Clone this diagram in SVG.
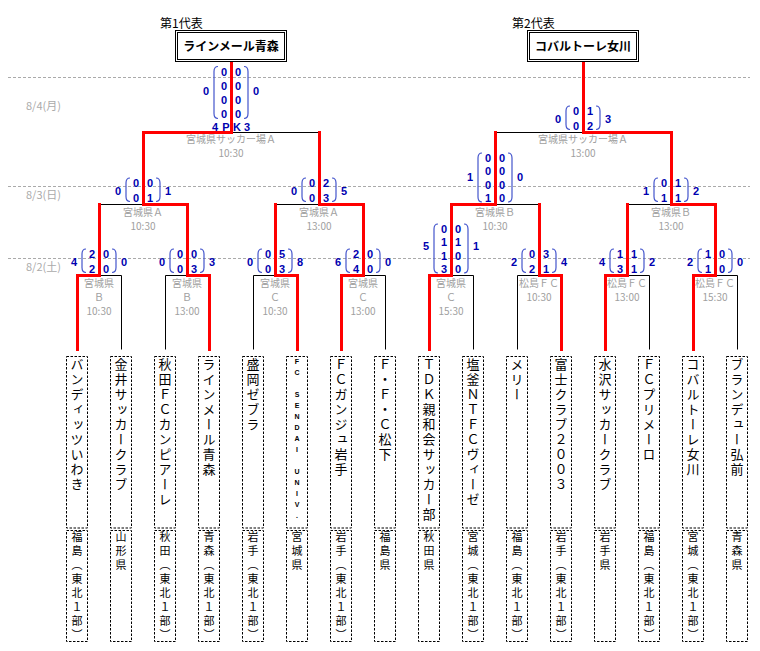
<svg xmlns="http://www.w3.org/2000/svg" width="760" height="651" viewBox="0 0 760 651">
<style>
.bg{fill:#fff}
.grid{stroke:#aaa;stroke-width:1;stroke-dasharray:3 2;fill:none}
.blk{stroke:#000;stroke-width:1;fill:none}
.red{stroke:#f00;stroke-width:3;fill:none;stroke-linejoin:miter;stroke-linecap:square}
.nb{fill:#fff;stroke:#000;stroke-width:1;stroke-dasharray:2.5 1.5}
.rep{fill:#fff;stroke:#000;stroke-width:1}
.t{font-family:"Noto Sans CJK JP",sans-serif;font-size:13px;writing-mode:vertical-rl;letter-spacing:2px;fill:#000}
.t2{font-family:"Liberation Sans",sans-serif;font-size:7px;font-weight:bold;writing-mode:vertical-rl;text-orientation:upright;letter-spacing:4px;fill:#000}
.pf{font-family:"Noto Sans CJK JP",sans-serif;font-size:11px;writing-mode:vertical-rl;letter-spacing:3px;fill:#000}
.s{font-family:"Liberation Sans",sans-serif;font-size:11px;font-weight:bold;fill:#0000b0;text-anchor:middle}
.p{fill:none;stroke:#4455cc;stroke-width:1.2}
.v{font-family:"Noto Sans CJK JP",sans-serif;font-size:10px;fill:#a0a0a0;text-anchor:middle}
.d{font-family:"Noto Sans CJK JP",sans-serif;font-size:11px;fill:#aaa}
.lab{font-family:"Noto Sans CJK JP",sans-serif;font-size:12px;fill:#000}
.rt{font-family:"Noto Sans CJK JP",sans-serif;font-size:12px;font-weight:bold;fill:#000;text-anchor:middle}
</style>
<defs>
<path id="p2" class="p" d="M-13,-26 Q-17,-26 -17,-21 V-7.5 Q-17,-2.5 -13,-2.5 M13,-26 Q17,-26 17,-21 V-7.5 Q17,-2.5 13,-2.5"/>
<path id="p4" class="p" d="M-13,-51 Q-17,-51 -17,-46 V-7 Q-17,-2 -13,-2 M13,-51 Q17,-51 17,-46 V-7 Q17,-2 13,-2"/>
<path id="p4k" class="p" d="M-13,-65.5 Q-17,-65.5 -17,-60.5 V-18.5 Q-17,-13.5 -13,-13.5 M13,-65.5 Q17,-65.5 17,-60.5 V-18.5 Q17,-13.5 13,-13.5"/>
</defs>
<rect class="bg" x="0" y="0" width="760" height="651"/>

<g id="grid">
<line class="grid" x1="8" y1="77.5" x2="750" y2="77.5"/>
<line class="grid" x1="8" y1="186.5" x2="750" y2="186.5"/>
<line class="grid" x1="8" y1="258.5" x2="750" y2="258.5"/>
<text class="d" x="26" y="109.5">8/4(月)</text>
<text class="d" x="26" y="199">8/3(日)</text>
<text class="d" x="26" y="271">8/2(土)</text>
</g>

<g id="connectors" transform="translate(0.5,0.5)">
<path class="blk" d="M121,275V349 M165,275V349 M253,275V349 M385,275V349 M473,275V349 M517,275V349 M649,275V349 M737,275V349"/>
<path class="blk" d="M99,275H121 M165,275H187 M253,275H275 M363,275H385 M451,275H473 M517,275H539 M627,275H649 M715,275H737"/>
<path class="blk" d="M99,204H143 M275,204H319 M495,204H539 M627,204H671"/>
<path class="blk" d="M231,132H319 M495,132H583"/>
<path class="red" d="M77,349V275H99V204"/>
<path class="red" d="M209,349V275H187V204H143V132H231V62"/>
<path class="red" d="M297,349V275H275V204"/>
<path class="red" d="M341,349V275H363V204H319V132"/>
<path class="red" d="M429,349V275H451V204H495V132"/>
<path class="red" d="M561,349V275H539V204"/>
<path class="red" d="M605,349V275H627V204"/>
<path class="red" d="M693,349V275H715V204H671V132H583V62"/>
</g>

<g id="rep-1">
<text class="lab" x="160" y="28">第1代表</text>
<rect class="rep" x="175.5" y="30.5" width="111" height="31"/>
<rect class="rep" x="177.5" y="32.5" width="107" height="27"/>
<text class="rt" x="231" y="51">ラインメール青森</text>
</g>
<g id="rep-2">
<text class="lab" x="512" y="28">第2代表</text>
<rect class="rep" x="527.5" y="30.5" width="111" height="31"/>
<rect class="rep" x="529.5" y="32.5" width="107" height="27"/>
<text class="rt" x="583" y="51">コバルトーレ女川</text>
</g>

<!-- semifinals 8/4 -->
<g id="match-sf1" transform="translate(231,132)">
<use href="#p4k"/>
<text class="s" x="-7" y="-56.5">0</text><text class="s" x="7" y="-56.5">0</text>
<text class="s" x="-7" y="-42.5">0</text><text class="s" x="7" y="-42.5">0</text>
<text class="s" x="-7" y="-28.5">0</text><text class="s" x="7" y="-28.5">0</text>
<text class="s" x="-7" y="-14.5">0</text><text class="s" x="7" y="-14.5">0</text>
<text class="s" x="-25" y="-37">0</text><text class="s" x="25" y="-37">0</text>
<text class="s" x="-16" y="-1.5">4</text><text class="s" x="-5" y="-1.5">P</text><text class="s" x="6" y="-1.5">K</text><text class="s" x="16" y="-1.5">3</text>
<text class="v" x="0" y="11">宮城県サッカー場Ａ</text>
<text class="v" x="0" y="25">10:30</text>
</g>
<g id="match-sf2" transform="translate(583,132)">
<use href="#p2"/>
<text class="s" x="-7" y="-17">0</text><text class="s" x="7" y="-17">1</text>
<text class="s" x="-7" y="-2.5">0</text><text class="s" x="7" y="-2.5">2</text>
<text class="s" x="-25" y="-9">0</text><text class="s" x="25" y="-9">3</text>
<text class="v" x="0" y="11">宮城県サッカー場Ａ</text>
<text class="v" x="0" y="25">13:00</text>
</g>

<!-- round 2 8/3 -->
<g id="match-r2-1" transform="translate(143,204)">
<use href="#p2"/>
<text class="s" x="-7" y="-17">0</text><text class="s" x="7" y="-17">0</text>
<text class="s" x="-7" y="-2.5">0</text><text class="s" x="7" y="-2.5">1</text>
<text class="s" x="-25" y="-9">0</text><text class="s" x="25" y="-9">1</text>
<text class="v" x="0" y="11.5">宮城県Ａ</text>
<text class="v" x="0" y="25.5">10:30</text>
</g>
<g id="match-r2-2" transform="translate(319,204)">
<use href="#p2"/>
<text class="s" x="-7" y="-17">0</text><text class="s" x="7" y="-17">2</text>
<text class="s" x="-7" y="-2.5">0</text><text class="s" x="7" y="-2.5">3</text>
<text class="s" x="-25" y="-9">0</text><text class="s" x="25" y="-9">5</text>
<text class="v" x="0" y="11.5">宮城県Ａ</text>
<text class="v" x="0" y="25.5">13:00</text>
</g>
<g id="match-r2-3" transform="translate(495,204)">
<use href="#p4"/>
<text class="s" x="-7" y="-42.5">0</text><text class="s" x="7" y="-42.5">0</text>
<text class="s" x="-7" y="-29">0</text><text class="s" x="7" y="-29">0</text>
<text class="s" x="-7" y="-15.5">0</text><text class="s" x="7" y="-15.5">0</text>
<text class="s" x="-7" y="-2">1</text><text class="s" x="7" y="-2">0</text>
<text class="s" x="-25" y="-23">1</text><text class="s" x="25" y="-23">0</text>
<text class="v" x="0" y="11.5">宮城県Ｂ</text>
<text class="v" x="0" y="25.5">10:30</text>
</g>
<g id="match-r2-4" transform="translate(671,204)">
<use href="#p2"/>
<text class="s" x="-7" y="-17">0</text><text class="s" x="7" y="-17">1</text>
<text class="s" x="-7" y="-2.5">1</text><text class="s" x="7" y="-2.5">1</text>
<text class="s" x="-25" y="-9">1</text><text class="s" x="25" y="-9">2</text>
<text class="v" x="0" y="11.5">宮城県Ｂ</text>
<text class="v" x="0" y="25.5">13:00</text>
</g>

<!-- round 1 8/2 -->
<g id="match-r1-1" transform="translate(99,275)">
<use href="#p2"/>
<text class="s" x="-7" y="-17">2</text><text class="s" x="7" y="-17">0</text>
<text class="s" x="-7" y="-2.5">2</text><text class="s" x="7" y="-2.5">0</text>
<text class="s" x="-25" y="-9">4</text><text class="s" x="25" y="-9">0</text>
<text class="v" x="0" y="12">宮城県</text><text class="v" x="0" y="26">Ｂ</text><text class="v" x="0" y="39.5">10:30</text>
</g>
<g id="match-r1-2" transform="translate(187,275)">
<use href="#p2"/>
<text class="s" x="-7" y="-17">0</text><text class="s" x="7" y="-17">0</text>
<text class="s" x="-7" y="-2.5">0</text><text class="s" x="7" y="-2.5">3</text>
<text class="s" x="-25" y="-9">0</text><text class="s" x="25" y="-9">3</text>
<text class="v" x="0" y="12">宮城県</text><text class="v" x="0" y="26">Ｂ</text><text class="v" x="0" y="39.5">13:00</text>
</g>
<g id="match-r1-3" transform="translate(275,275)">
<use href="#p2"/>
<text class="s" x="-7" y="-17">0</text><text class="s" x="7" y="-17">5</text>
<text class="s" x="-7" y="-2.5">0</text><text class="s" x="7" y="-2.5">3</text>
<text class="s" x="-25" y="-9">0</text><text class="s" x="25" y="-9">8</text>
<text class="v" x="0" y="12">宮城県</text><text class="v" x="0" y="26">Ｃ</text><text class="v" x="0" y="39.5">10:30</text>
</g>
<g id="match-r1-4" transform="translate(363,275)">
<use href="#p2"/>
<text class="s" x="-7" y="-17">2</text><text class="s" x="7" y="-17">0</text>
<text class="s" x="-7" y="-2.5">4</text><text class="s" x="7" y="-2.5">0</text>
<text class="s" x="-25" y="-9">6</text><text class="s" x="25" y="-9">0</text>
<text class="v" x="0" y="12">宮城県</text><text class="v" x="0" y="26">Ｃ</text><text class="v" x="0" y="39.5">13:00</text>
</g>
<g id="match-r1-5" transform="translate(451,275)">
<use href="#p4"/>
<text class="s" x="-7" y="-42.5">0</text><text class="s" x="7" y="-42.5">0</text>
<text class="s" x="-7" y="-29">1</text><text class="s" x="7" y="-29">1</text>
<text class="s" x="-7" y="-15.5">1</text><text class="s" x="7" y="-15.5">0</text>
<text class="s" x="-7" y="-2">3</text><text class="s" x="7" y="-2">0</text>
<text class="s" x="-25" y="-25">5</text><text class="s" x="25" y="-25">1</text>
<text class="v" x="0" y="12">宮城県</text><text class="v" x="0" y="26">Ｃ</text><text class="v" x="0" y="39.5">15:30</text>
</g>
<g id="match-r1-6" transform="translate(539,275)">
<use href="#p2"/>
<text class="s" x="-7" y="-17">0</text><text class="s" x="7" y="-17">3</text>
<text class="s" x="-7" y="-2.5">2</text><text class="s" x="7" y="-2.5">1</text>
<text class="s" x="-25" y="-9">2</text><text class="s" x="25" y="-9">4</text>
<text class="v" x="0" y="12">松島ＦＣ</text><text class="v" x="0" y="26">10:30</text>
</g>
<g id="match-r1-7" transform="translate(627,275)">
<use href="#p2"/>
<text class="s" x="-7" y="-17">1</text><text class="s" x="7" y="-17">1</text>
<text class="s" x="-7" y="-2.5">3</text><text class="s" x="7" y="-2.5">1</text>
<text class="s" x="-25" y="-9">4</text><text class="s" x="25" y="-9">2</text>
<text class="v" x="0" y="12">松島ＦＣ</text><text class="v" x="0" y="26">13:00</text>
</g>
<g id="match-r1-8" transform="translate(715,275)">
<use href="#p2"/>
<text class="s" x="-7" y="-17">1</text><text class="s" x="7" y="-17">0</text>
<text class="s" x="-7" y="-2.5">1</text><text class="s" x="7" y="-2.5">0</text>
<text class="s" x="-25" y="-9">2</text><text class="s" x="25" y="-9">0</text>
<text class="v" x="0" y="12">松島ＦＣ</text><text class="v" x="0" y="26">15:30</text>
</g>

<!-- teams -->
<g id="team-1"><rect class="nb" x="66.5" y="356.5" width="21" height="171.5"/><rect class="nb" x="66.5" y="530.5" width="21" height="111"/><text class="t" x="77" y="358">バンディッツいわき</text><text class="pf" x="77" y="531">福島（東北１部）</text></g>
<g id="team-2"><rect class="nb" x="110.5" y="356.5" width="21" height="171.5"/><rect class="nb" x="110.5" y="530.5" width="21" height="111"/><text class="t" x="121" y="358">金井サッカークラブ</text><text class="pf" x="121" y="531">山形県</text></g>
<g id="team-3"><rect class="nb" x="154.5" y="356.5" width="21" height="171.5"/><rect class="nb" x="154.5" y="530.5" width="21" height="111"/><text class="t" x="165" y="358">秋田ＦＣカンピアーレ</text><text class="pf" x="165" y="531">秋田（東北１部）</text></g>
<g id="team-4"><rect class="nb" x="198.5" y="356.5" width="21" height="171.5"/><rect class="nb" x="198.5" y="530.5" width="21" height="111"/><text class="t" x="209" y="358">ラインメール青森</text><text class="pf" x="209" y="531">青森（東北１部）</text></g>
<g id="team-5"><rect class="nb" x="242.5" y="356.5" width="21" height="171.5"/><rect class="nb" x="242.5" y="530.5" width="21" height="111"/><text class="t" x="253" y="358">盛岡ゼブラ</text><text class="pf" x="253" y="531">岩手（東北１部）</text></g>
<g id="team-6"><rect class="nb" x="286.5" y="356.5" width="21" height="171.5"/><rect class="nb" x="286.5" y="530.5" width="21" height="111"/><text class="t2" x="297" y="358">FC SENDAI UNIV.</text><text class="pf" x="297" y="531">宮城県</text></g>
<g id="team-7"><rect class="nb" x="330.5" y="356.5" width="21" height="171.5"/><rect class="nb" x="330.5" y="530.5" width="21" height="111"/><text class="t" x="341" y="358">ＦＣガンジュ岩手</text><text class="pf" x="341" y="531">岩手（東北１部）</text></g>
<g id="team-8"><rect class="nb" x="374.5" y="356.5" width="21" height="171.5"/><rect class="nb" x="374.5" y="530.5" width="21" height="111"/><text class="t" x="385" y="358">Ｆ・Ｆ・Ｃ松下</text><text class="pf" x="385" y="531">福島県</text></g>
<g id="team-9"><rect class="nb" x="418.5" y="356.5" width="21" height="171.5"/><rect class="nb" x="418.5" y="530.5" width="21" height="111"/><text class="t" x="429" y="358">ＴＤＫ親和会サッカー部</text><text class="pf" x="429" y="531">秋田県</text></g>
<g id="team-10"><rect class="nb" x="462.5" y="356.5" width="21" height="171.5"/><rect class="nb" x="462.5" y="530.5" width="21" height="111"/><text class="t" x="473" y="358">塩釜ＮＴＦＣヴィーゼ</text><text class="pf" x="473" y="531">宮城（東北１部）</text></g>
<g id="team-11"><rect class="nb" x="506.5" y="356.5" width="21" height="171.5"/><rect class="nb" x="506.5" y="530.5" width="21" height="111"/><text class="t" x="517" y="358">メリー</text><text class="pf" x="517" y="531">福島（東北１部）</text></g>
<g id="team-12"><rect class="nb" x="550.5" y="356.5" width="21" height="171.5"/><rect class="nb" x="550.5" y="530.5" width="21" height="111"/><text class="t" x="561" y="358">富士クラブ２００３</text><text class="pf" x="561" y="531">岩手（東北１部）</text></g>
<g id="team-13"><rect class="nb" x="594.5" y="356.5" width="21" height="171.5"/><rect class="nb" x="594.5" y="530.5" width="21" height="111"/><text class="t" x="605" y="358">水沢サッカークラブ</text><text class="pf" x="605" y="531">岩手県</text></g>
<g id="team-14"><rect class="nb" x="638.5" y="356.5" width="21" height="171.5"/><rect class="nb" x="638.5" y="530.5" width="21" height="111"/><text class="t" x="649" y="358">ＦＣプリメーロ</text><text class="pf" x="649" y="531">福島（東北１部）</text></g>
<g id="team-15"><rect class="nb" x="682.5" y="356.5" width="21" height="171.5"/><rect class="nb" x="682.5" y="530.5" width="21" height="111"/><text class="t" x="693" y="358">コバルトーレ女川</text><text class="pf" x="693" y="531">宮城（東北１部）</text></g>
<g id="team-16"><rect class="nb" x="726.5" y="356.5" width="21" height="171.5"/><rect class="nb" x="726.5" y="530.5" width="21" height="111"/><text class="t" x="737" y="358">ブランデュー弘前</text><text class="pf" x="737" y="531">青森県</text></g>
</svg>
